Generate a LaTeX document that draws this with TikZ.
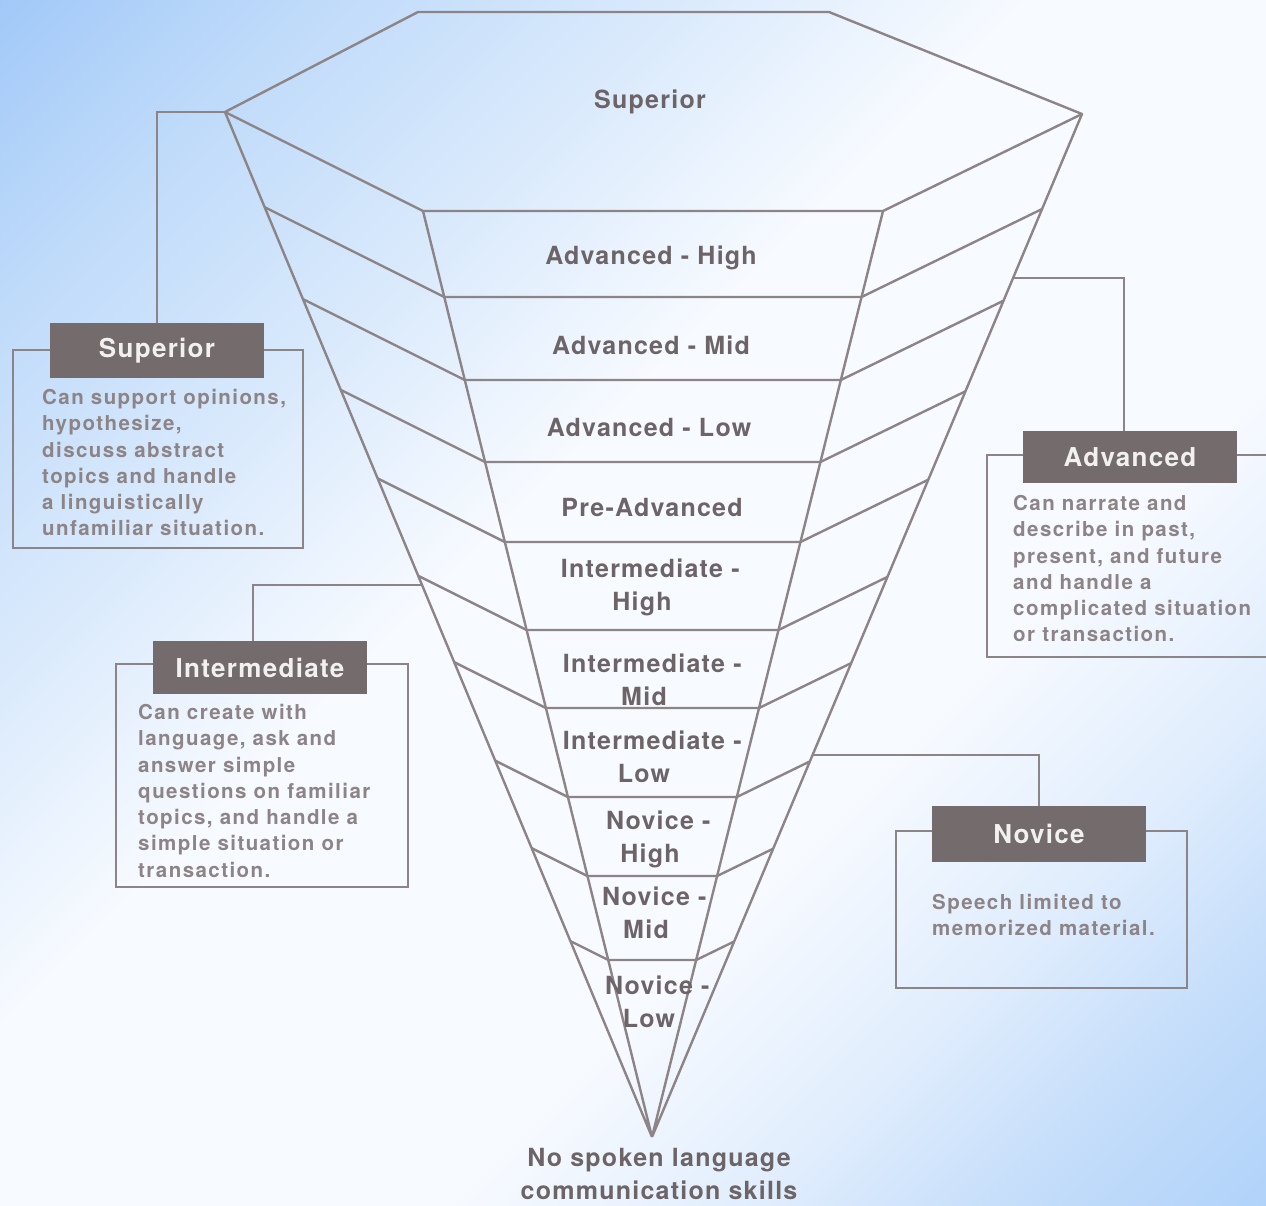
\documentclass[tikz,border=0pt]{standalone}
\usepackage{fontspec}
\setmainfont{TeX Gyre Heros}
\newfontfamily\labfont{TeX Gyre Heros}[LetterSpace=5]
\newfontfamily\bodyfont{TeX Gyre Heros}[LetterSpace=7]
\usetikzlibrary{calc}
\definecolor{lineC}{RGB}{140,132,134}
\definecolor{labC}{RGB}{108,100,102}
\definecolor{bodyC}{RGB}{140,132,134}
\definecolor{hdrC}{RGB}{115,107,108}
\definecolor{hdrT}{RGB}{242,240,240}
\definecolor{bgA}{RGB}{160,200,248}
\definecolor{bgA1}{RGB}{190,218,250}
\definecolor{bgA2}{RGB}{218,234,252}
\definecolor{bgB}{RGB}{176,210,250}
\definecolor{bgB1}{RGB}{194,220,250}
\definecolor{bgB2}{RGB}{224,237,253}
\definecolor{bgW}{RGB}{247,250,255}
\pgfdeclarehorizontalshading{bgshade}{100bp}{color(0bp)=(bgA); color(14bp)=(bgA); color(23bp)=(bgA1); color(34bp)=(bgA2); color(44bp)=(bgW); color(62bp)=(bgW); color(71bp)=(bgB2); color(79bp)=(bgB1); color(86bp)=(bgB); color(100bp)=(bgB)}
\begin{document}
\begin{tikzpicture}[x=1pt,y=-1pt,
  pyr/.style={draw=lineC, line width=2.4pt, line join=round},
  conn/.style={draw=lineC, line width=2.4pt},
  boxframe/.style={draw=lineC, line width=2.4pt, inner sep=0pt},
  hdr/.style={fill=hdrC, text=hdrT, inner sep=0pt, minimum width=214pt, font={\labfont\bfseries\fontsize{26}{30}\selectfont}},
  lvl/.style={text=labC, align=center, inner sep=0pt, font={\labfont\bfseries\fontsize{25}{33}\selectfont}},
  bodytxt/.style={text=bodyC, align=left, inner sep=0pt, anchor=north west, font={\bodyfont\bfseries\fontsize{20.5}{26.3}\selectfont}}]
\useasboundingbox (0,0) rectangle (1266,1205);
\shade[shading=bgshade, shading angle=-45] (0,0) rectangle (1266,1205);
\clip (0,0) rectangle (1266,1205);

% pyramid geometry
\coordinate (A) at (652,1137);
\coordinate (TL) at (418,12);
\coordinate (TR) at (829,12);
\coordinate (R) at (1082,114);
\coordinate (FR) at (883,211);
\coordinate (FL) at (423,211);
\coordinate (L) at (225,112);

\draw[pyr] (L) -- (TL) -- (TR) -- (R) -- (FR) -- (FL) -- cycle;
\draw[pyr] (L) -- (A) (FL) -- (A) (FR) -- (A) (R) -- (A);
\foreach \yf in {297,380,462,542,630,708,797,876,960} {
  \pgfmathsetmacro\k{(1137-\yf)/926}
  \draw[pyr] ($(A)!\k!(L)$) -- ($(A)!\k!(FL)$) -- ($(A)!\k!(FR)$) -- ($(A)!\k!(R)$);
}

% level labels
\node[lvl] (lSup) at (650,102) {Superior};
\node[lvl] (lAH) at (651,258) {Advanced - High};
\node[lvl] (lAM) at (651,345) {Advanced - Mid};
\node[lvl] (lAL) at (649,427) {Advanced - Low};
\node[lvl] (lPA) at (652,507) {Pre-Advanced};
\node[lvl] (lIH) at (642,587) {Intermediate\rlap{ -}\\High};
\node[lvl] (lIM) at (644,680) {Intermediate\rlap{ -}\\Mid};
\node[lvl] (lIL) at (644,757) {Intermediate\rlap{ -}\\Low};
\node[lvl] (lNH) at (650,839) {Novice\rlap{ -}\\High};
\node[lvl] (lNM) at (646,913) {Novice\rlap{ -}\\Mid};
\node[lvl] (lNL) at (649,1002) {Novice\rlap{ -}\\Low};
\node[lvl] (lNone) at (659,1174) {No spoken language\\communication skills};

% side boxes
\node[boxframe, minimum width=290pt, minimum height=198pt] (bSup) at (158,449) {};
\node[boxframe, minimum width=292pt, minimum height=223pt] (bInt) at (262,775.5) {};
\node[boxframe, minimum width=293pt, minimum height=202pt] (bAdv) at (1133.5,556) {};
\node[boxframe, minimum width=291pt, minimum height=157pt] (bNov) at (1041.5,909.5) {};

% connector end points on the pyramid
\coordinate (eAdv) at ($(R)!0.1603!(A)$);
\coordinate (eInt) at ($(L)!0.4615!(A)$);
\coordinate (eNov) at ($(R)!0.6266!(A)$);

% headers
\node[hdr, minimum height=55pt] (hSup) at (157,350.5) {Superior};
\node[hdr, minimum height=53pt] (hInt) at (260,667.5) {Intermediate};
\node[hdr, minimum height=52pt] (hAdv) at (1130,457) {Advanced};
\node[hdr, minimum height=56pt] (hNov) at (1039,834) {Novice};

% connectors
\draw[conn] (hSup.north) |- (L);
\draw[conn] ([xshift=-7pt]hInt.north) |- (eInt);
\draw[conn] ([xshift=-6pt]hAdv.north) |- (eAdv);
\draw[conn] (hNov.north) |- (eNov);

% body texts
\node[bodytxt] (tSup) at (42,389) {Can support opinions,\\hypothesize,\\discuss abstract\\topics and handle\\a linguistically\\unfamiliar situation.};
\node[bodytxt] (tInt) at (138,704) {Can create with\\language, ask and\\answer simple\\questions on familiar\\topics, and handle a\\simple situation or\\transaction.};
\node[bodytxt] (tAdv) at (1013,495) {Can narrate and\\describe in past,\\present, and future\\and handle a\\complicated situation\\or transaction.};
\node[bodytxt] (tNov) at (932,894) {Speech limited to\\memorized material.};
\end{tikzpicture}
\end{document}
